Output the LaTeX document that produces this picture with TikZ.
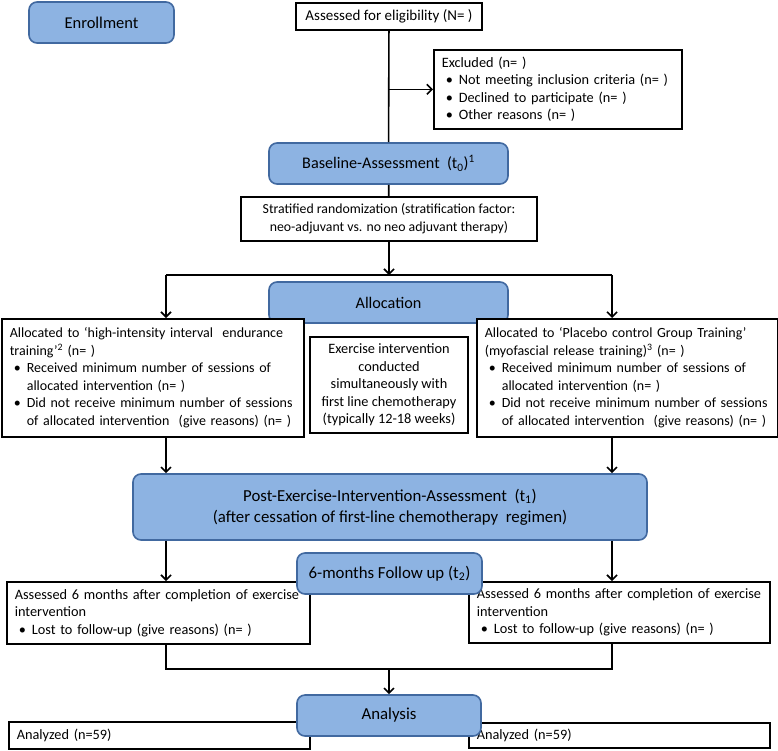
\documentclass[tikz,border=0pt]{standalone}
\usepackage{fontspec}
\setmainfont{Carlito}
\usetikzlibrary{arrows.meta,positioning}
\tikzset{>={Straight Barb[length=5pt,width=10pt]}}
\definecolor{boxblue}{RGB}{141,179,226}
\definecolor{boxedge}{RGB}{65,105,160}
\newcommand{\bitem}{\makebox[17pt][l]{\hspace{4pt}\textbullet}}
\newcommand{\bcont}{\hspace*{17pt}}

\begin{document}
\begin{tikzpicture}[x=1pt,y=-1pt,
  every node/.style={font=\fontsize{14.3}{17.5}\selectfont, inner sep=0pt},
  plain/.style={draw, line width=1.6pt, fill=white, inner xsep=8pt},
  leftbox/.style={plain, anchor=north west, align=left},
  bluebox/.style={draw=boxedge, fill=boxblue, line width=1.6pt, rounded corners=8pt, align=center, font=\fontsize{16.5}{20}\selectfont},
  line/.style={line width=1.6pt},
  arr/.style={line, ->}]
\useasboundingbox (0,0) rectangle (778,750);

% enrollment
\node[bluebox, minimum width=145, minimum height=41] (enroll) at (101.5,22.5) {Enrollment};
\node[plain, minimum width=186, minimum height=27, inner xsep=0pt, font=\fontsize{15}{18}\selectfont] (elig) at (389,16.5) {Assessed for eligibility (N= )};
\node[leftbox, text width=232, minimum height=79] (excl) at (433,49) {Excluded (n= )\\
  \bitem Not meeting inclusion criteria (n= )\\
  \bitem Declined to participate (n= )\\
  \bitem Other reasons (n= )};
\node[bluebox, minimum width=239, minimum height=41, font=\fontsize{16.2}{20}\selectfont] (base) at (388.5,163.5) {Baseline-Assessment~ (t\textsubscript{0})\textsuperscript{1}};
\node[plain, minimum width=296, minimum height=44, align=center, inner xsep=0pt, font=\fontsize{13.8}{18}\selectfont] (strat) at (389,219) {Stratified randomization (stratification factor:\\ neo-adjuvant vs. no neo adjuvant therapy)};

% allocation
\node[bluebox, minimum width=239, minimum height=41, font=\fontsize{16.2}{20}\selectfont] (alloc) at (388.5,302.5) {Allocation};
\node[leftbox, text width=286, minimum height=118, font=\fontsize{14}{17.5}\selectfont] (allocL) at (1,318) {Allocated to `high-intensity interval~ endurance\\
  training'\textsuperscript{2} (n= )\\
  \bitem Received minimum number of sessions of\\
  \bcont allocated intervention (n= )\\
  \bitem Did not receive minimum number of sessions\\
  \bcont of allocated intervention~ (give reasons) (n= )};
\node[plain, minimum width=158, minimum height=96, align=center, inner xsep=0pt] (mid) at (389,385) {Exercise intervention\\ conducted\\ simultaneously with\\ first line chemotherapy\\ (typically 12-18 weeks)};
\node[leftbox, text width=285, minimum height=118, font=\fontsize{14}{17.5}\selectfont] (allocR) at (476,318) {Allocated to `Placebo control Group Training'\\
  (myofascial release training)\textsuperscript{3} (n= )\\
  \bitem Received minimum number of sessions of\\
  \bcont allocated intervention (n= )\\
  \bitem Did not receive minimum number of sessions\\
  \bcont of allocated intervention~ (give reasons) (n= )};

% follow up
\node[bluebox, minimum width=514, minimum height=66, font=\fontsize{16.8}{21}\selectfont] (post) at (390,507) {Post-Exercise-Intervention-Assessment~ (t\textsubscript{1})\\ (after cessation of first-line chemotherapy~ regimen)};
\node[leftbox, text width=287, minimum height=62] (fuL) at (6,581) {Assessed 6 months after completion of exercise\\
  intervention\\
  \bitem Lost to follow-up (give reasons) (n= )};
\node[leftbox, text width=285, minimum height=61] (fuR) at (468,581) {Assessed 6 months after completion of exercise\\
  intervention\\
  \bitem Lost to follow-up (give reasons) (n= )};
\node[bluebox, minimum width=185, minimum height=41, font=\fontsize{16.8}{20}\selectfont] (fup) at (389.5,573.5) {6-months Follow up (t\textsubscript{2})};

% analysis
\node[leftbox, text width=285, minimum height=27] (anL) at (8,721) {Analyzed (n=59)};
\node[leftbox, text width=285, minimum height=25] (anR) at (468,722) {Analyzed (n=59)};
\node[bluebox, minimum width=184, minimum height=41, font=\fontsize{16.8}{20}\selectfont] (anal) at (389,715.5) {Analysis};

% connectors
\coordinate (exclbr) at (elig.south |- excl.west);
\coordinate (split) at (389,275);
\coordinate (splitL) at (166,275);
\coordinate (splitR) at (612,275);
\coordinate (join) at (389,669);
\draw[line] (elig) -- (base);
\draw[arr] (exclbr) -- (excl.west);
\draw[line] (base) -- (strat);
\draw[arr] (strat) -- (split);
\draw[line] (splitL) -- (splitR);
\draw[arr] (splitL) -- (splitL |- allocL.north);
\draw[arr] (splitR) -- (splitR |- allocR.north);
\draw[arr] (splitL |- allocL.south) -- (splitL |- post.north);
\draw[arr] (splitR |- allocR.south) -- (splitR |- post.north);
\draw[arr] (splitL |- post.south) -- (splitL |- fuL.north);
\draw[arr] (splitR |- post.south) -- (splitR |- fuR.north);
\draw[line] (splitL |- fuL.south) |- (join) -| (splitR |- fuR.south);
\draw[arr] (join) -- (anal);
\end{tikzpicture}
\end{document}
